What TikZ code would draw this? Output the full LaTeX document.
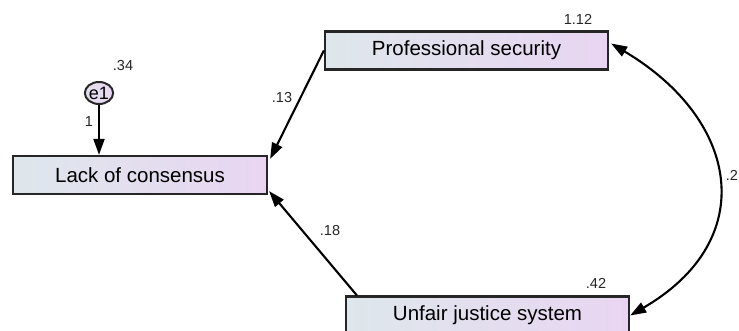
\documentclass[tikz,border=0pt]{standalone}
\usepackage{fontspec}
\setmainfont{Liberation Sans}
\usetikzlibrary{arrows.meta,calc,shapes.geometric}
\definecolor{boxL}{RGB}{222,231,235}
\definecolor{boxR}{RGB}{233,213,242}
\tikzset{
  varbox/.style={draw=black!85, line width=2.2pt, left color=boxL, right color=boxR,
    minimum height=38pt, inner sep=0pt, font=\fontsize{20.5}{24}\selectfont},
  errc/.style={ellipse, draw=black!85, line width=2pt, left color=boxL!60!boxR, right color=boxR,
    minimum width=26pt, minimum height=22pt, inner sep=0pt, font=\fontsize{18}{20}\selectfont},
  lbl/.style={font=\fontsize{14.5}{17}\selectfont, inner sep=0pt, text=black!85},
  arr/.style={line width=2.1pt, -{Triangle[length=16pt,width=11pt]}},
  darr/.style={line width=2.1pt, {Triangle[length=16pt,width=11pt]}-{Triangle[length=16pt,width=11pt]}}
}
\begin{document}
\begin{tikzpicture}[x=1pt,y=-1pt]
\useasboundingbox (0,0) rectangle (739,331);
\begin{scope}
\clip (0,0) rectangle (739,331);
\node[varbox, minimum width=254pt] (loc) at (140,175) {Lack of consensus};
\node[varbox, minimum width=283pt] (ps) at (466.5,50.5) {Professional security};
\node[varbox, minimum width=283pt] (ujs) at (487.5,315.5) {Unfair justice system};
\node[errc] (e1) at (99,93) {e1};
\end{scope}
\draw[arr] (e1.south) -- (e1.south |- loc.north);
\draw[arr] (ps.west) -- ($(loc.north east)+(2,4)$);
\draw[arr] ($(ujs.north west)+(12,0)$) -- ($(loc.south east)+(1,-4)$);
\draw[darr] ($(ps.east)+(2,-7)$) .. controls (740,120) and (760,240) .. (ujs.east);
\node[lbl] (l34) at (123,66) {.34};
\node[lbl] (l1) at (89,122) {1};
\node[lbl] (l13) at (282,98) {.13};
\node[lbl] (l112) at (578,19) {1.12};
\node[lbl] (l42) at (596,283) {.42};
\node[lbl] (l2) at (732,175) {.2};
\node[lbl] (l18) at (330,231) {.18};
\end{tikzpicture}
\end{document}
